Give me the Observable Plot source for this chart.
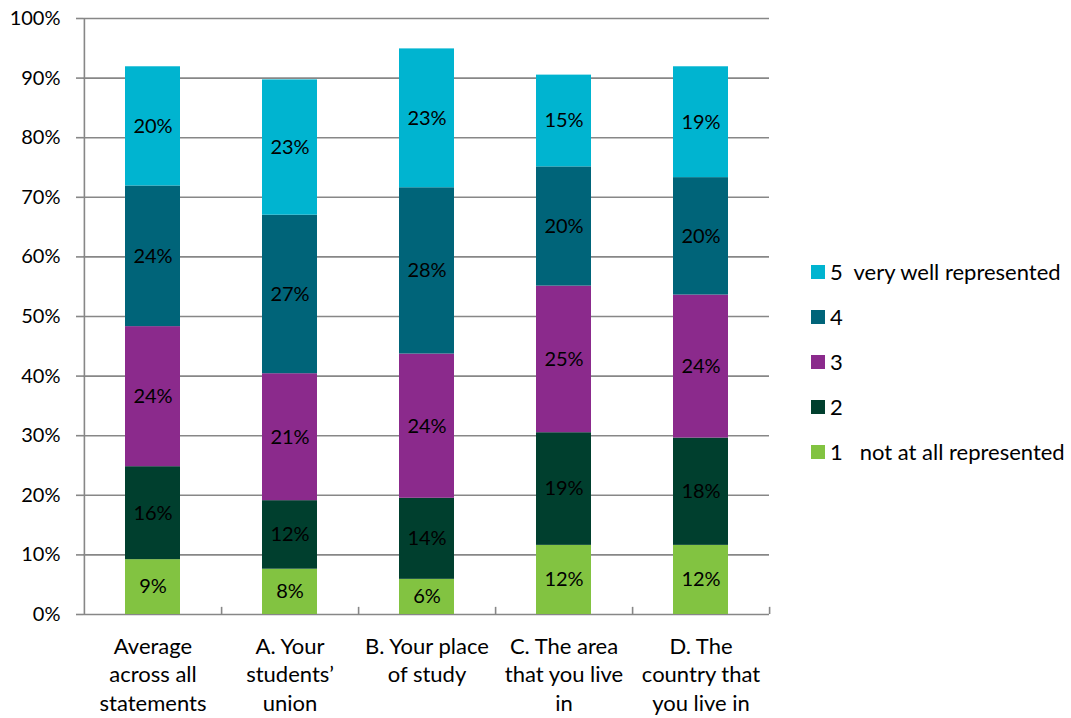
<!DOCTYPE html>
<html>
<head>
<meta charset="utf-8">
<script src="https://cdn.jsdelivr.net/npm/d3@7"></script>
<script src="https://cdn.jsdelivr.net/npm/@observablehq/plot@0.6"></script>
<style>
  html, body { margin: 0; padding: 0; background: #fff; }
  #wrap { position: relative; width: 1071px; height: 718px; font-family: Lato, sans-serif; }
  #legend { position: absolute; left: 811px; top: 249px; }
  .item { height: 45px; display: flex; align-items: center; font-size: 22px; color: #000; white-space: pre; }
  .sw { width: 14px; height: 14px; margin-right: 5px; flex: none; }
</style>
</head>
<body>
<div id="wrap"><div id="chart"></div><div id="legend"></div></div>
<script>
const categories = [
  "Average\nacross all\nstatements",
  "A. Your\nstudents’\nunion",
  "B. Your place\nof study",
  "C. The area\nthat you live\nin",
  "D. The\ncountry that\nyou live in"
];
const levels = ["1", "2", "3", "4", "5"];
const legendLabels = ["1   not at all represented", "2", "3", "4", "5  very well represented"];
const colors = ["#82C341", "#003F2E", "#8B2A8C", "#006479", "#00B4D0"];
const level1 = [9.2, 7.6, 5.9, 11.6, 11.6];
const level2 = [15.6, 11.5, 13.6, 18.9, 18.0];
const level3 = [23.5, 21.3, 24.2, 24.6, 24.0];
const level4 = [23.6, 26.6, 27.9, 20.0, 19.7];
const level5 = [20.0, 22.7, 23.3, 15.4, 18.6];
const yTicks = [0, 10, 20, 30, 40, 50, 60, 70, 80, 90, 100];

const series = [level1, level2, level3, level4, level5];
const data = categories.flatMap((c, i) => levels.map((l, j) => ({category: c, level: l, value: series[j][i]})));

const W = 1071, H = 718, mL = 83, mR = 302, mT = 18, mB = 104;
const half = (W - mL - mR) / categories.length / 2;
const grey = "#878787";

const chart = Plot.plot({
  width: W, height: H,
  marginLeft: mL, marginRight: mR, marginTop: mT, marginBottom: mB,
  style: {fontFamily: "Lato, sans-serif", fontSize: "20px", color: "#000", background: "white"},
  x: {type: "band", domain: categories, padding: 0, label: null},
  y: {domain: [0, 100], label: null},
  color: {domain: levels, range: colors},
  marks: [
    Plot.ruleY(yTicks, {y: d => d, stroke: grey, strokeWidth: 1.6}),
    Plot.ruleX([categories[0]], {x: d => d, dx: -half, y1: 0, y2: 100, stroke: grey, strokeWidth: 1.6}),
    Plot.ruleX(categories, {x: d => d, dx: half, y1: 0, y2: 1.2, stroke: grey, strokeWidth: 1.6}),
    Plot.barY(data, {x: "category", y: "value", fill: "level", insetLeft: 41, insetRight: 41}),
    Plot.text(data, Plot.stackY({x: "category", y: "value", text: d => Math.round(d.value) + "%", fill: "black", fontSize: 20})),
    Plot.axisY({ticks: yTicks, tickFormat: d => d + "%", tickSize: 7, tickPadding: 16, stroke: grey, strokeWidth: 1.6, fill: "black", fontSize: 20, label: null}),
    Plot.axisX({tickSize: 0, tickPadding: 19, lineHeight: 1.3, fontSize: 22, fill: "black", label: null})
  ]
});
document.getElementById("chart").appendChild(chart);

const legend = document.getElementById("legend");
for (let k = levels.length - 1; k >= 0; k--) {
  const item = document.createElement("div");
  item.className = "item";
  const sw = document.createElement("span");
  sw.className = "sw";
  sw.style.background = colors[k];
  const t = document.createElement("span");
  t.textContent = legendLabels[k];
  item.appendChild(sw);
  item.appendChild(t);
  legend.appendChild(item);
}
</script>
</body>
</html>
